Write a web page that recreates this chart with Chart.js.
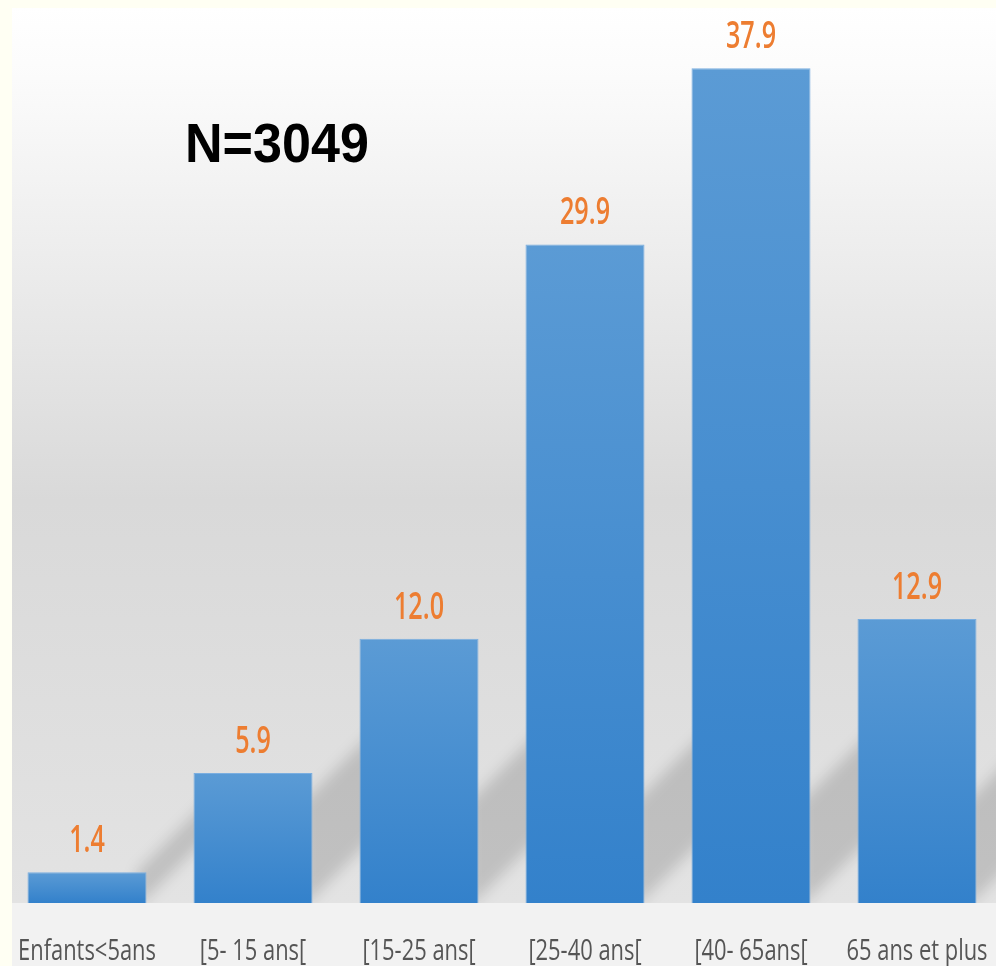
<!DOCTYPE html>
<html>
<head>
<meta charset="utf-8">
<script src="https://cdn.jsdelivr.net/npm/chart.js@4.4.0/dist/chart.umd.min.js"></script>
<style>
  html, body { margin: 0; padding: 0; overflow: hidden; background: #fffff3; }
  #wrap { width: 1000px; height: 966px; }
</style>
</head>
<body>
<div id="wrap"><canvas id="myChart" width="1000" height="966"></canvas></div>
<script>
var categories = ['Enfants<5ans', '[5- 15 ans[', '[15-25 ans[', '[25-40 ans[', '[40- 65ans[', '65 ans et plus'];
var values = [1.4, 5.9, 12.0, 29.9, 37.9, 12.9];
var sampleText = 'N=3049';

var ctx = document.getElementById('myChart').getContext('2d');

// draw narrow (Calibri-like) text by squeezing a humanist font horizontally
function narrowText(c, text, x, y, squeeze) {
    c.save();
    c.translate(x, y);
    c.scale(squeeze, 1);
    c.fillText(text, 0, 0);
    c.restore();
}

// background: cream margin + grey vertical gradient
var backdrop = {
    id: 'backdrop',
    beforeDraw: function (chart) {
        var c = chart.ctx;
        var area = chart.chartArea;
        c.save();
        c.fillStyle = '#fffff3';
        c.fillRect(0, 0, chart.width, chart.height);
        var g = c.createLinearGradient(0, 8, 0, area.bottom);
        g.addColorStop(0, '#ffffff');
        g.addColorStop(0.08, '#fbfbfb');
        g.addColorStop(0.55, '#d9d9d9');
        g.addColorStop(1, '#e3e3e3');
        c.fillStyle = g;
        c.fillRect(12, 8, chart.width - 12, area.bottom - 8);
        c.fillStyle = '#f2f2f2';
        c.fillRect(12, area.bottom, chart.width - 12, chart.height - area.bottom);
        c.restore();
    }
};

// soft diagonal shadows behind bars
var shadows = {
    id: 'shadows',
    beforeDatasetsDraw: function (chart) {
        var c = chart.ctx;
        var meta = chart.getDatasetMeta(0);
        c.save();
        c.beginPath();
        c.rect(0, 0, chart.width, chart.chartArea.bottom);
        c.clip();
        c.filter = 'blur(7px)';
        c.fillStyle = 'rgba(0,0,0,0.15)';
        meta.data.forEach(function (bar) {
            var right = bar.x + bar.width / 2;
            var h = Math.min(100, bar.base - bar.y);
            c.beginPath();
            c.moveTo(right - 10, bar.base + 5);
            c.lineTo(right - 10, bar.base - h);
            c.lineTo(right + 80, bar.base - h - 90);
            c.lineTo(right + 80, bar.base - 85);
            c.closePath();
            c.fill();
        });
        c.restore();
    }
};

// orange value labels, category labels, N text
var labelsPlugin = {
    id: 'labelsPlugin',
    afterDatasetsDraw: function (chart) {
        var c = chart.ctx;
        var meta = chart.getDatasetMeta(0);
        var xs = chart.scales.x;
        c.save();
        c.textAlign = 'center';
        c.textBaseline = 'alphabetic';
        c.font = '600 37px "Open Sans", sans-serif';
        c.fillStyle = '#ed7d31';
        meta.data.forEach(function (bar, i) {
            narrowText(c, values[i].toFixed(1), bar.x, bar.y - 20, 0.68);
        });
        c.font = '30px "Open Sans", sans-serif';
        c.fillStyle = '#555555';
        categories.forEach(function (lab, i) {
            narrowText(c, lab, xs.getPixelForValue(i), 960, 0.73);
        });
        c.font = 'bold 56px "Liberation Sans", Arial, sans-serif';
        c.fillStyle = '#000000';
        c.textAlign = 'left';
        narrowText(c, sampleText, 185, 162, 0.93);
        c.restore();
    }
};

var myBarChart = new Chart(ctx, {
    type: 'bar',
    data: {
        labels: categories,
        datasets: [{
            data: values,
            backgroundColor: function (context) {
                var chart = context.chart;
                if (!chart.chartArea) return '#4a90d3';
                var y = chart.scales.y;
                var v = context.raw || 0;
                var g = chart.ctx.createLinearGradient(0, y.getPixelForValue(v), 0, y.getPixelForValue(0));
                g.addColorStop(0, '#5b9bd5');
                g.addColorStop(1, '#3381cb');
                return g;
            },
            borderColor: '#7aaee0',
            borderWidth: 1,
            barPercentage: 0.717,
            categoryPercentage: 1
        }]
    },
    options: {
        responsive: false,
        animation: false,
        layout: { padding: { left: 4, top: 0, right: 0, bottom: 0 } },
        plugins: {
            legend: { display: false },
            tooltip: { enabled: false }
        },
        scales: {
            x: {
                grid: { display: false },
                border: { display: false },
                ticks: { display: false },
                afterFit: function (scale) { scale.height = 63; }
            },
            y: {
                display: false,
                min: 0,
                max: 41
            }
        }
    },
    plugins: [backdrop, shadows, labelsPlugin]
});
</script>
</body>
</html>
